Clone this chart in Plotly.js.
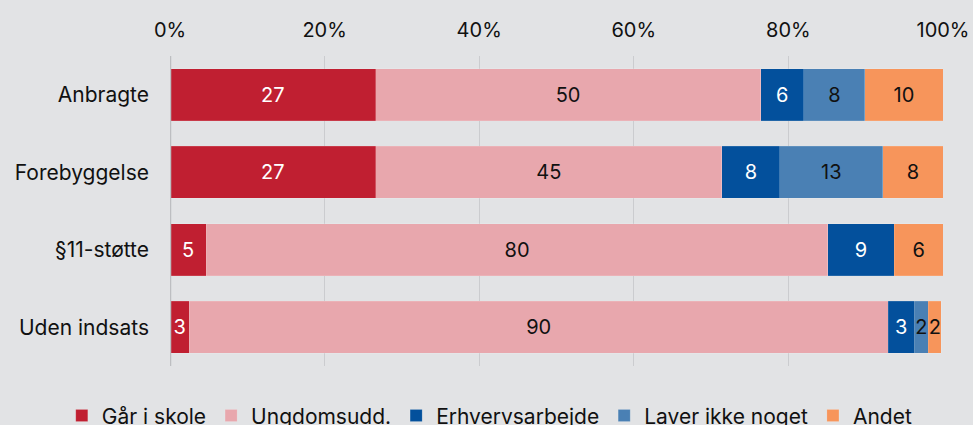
<!DOCTYPE html>
<html>
<head>
<meta charset="utf-8">
<script src="https://cdn.plot.ly/plotly-3.0.1.min.js"></script>
<style>html,body{margin:0;padding:0;background:#e2e3e5;overflow:hidden;}#chart{width:973px;height:425px;}</style>
</head>
<body>
<div id="chart"></div>
<script>
const categories = ["Anbragte", "Forebyggelse", "§11-støtte", "Uden indsats"];
const seriesNames = ["Går i skole", "Ungdomsudd.", "Erhvervsarbejde", "Laver ikke noget", "Andet"];
const gaarISkole     = [26.6, 26.6, 4.7, 2.5];
const ungdomsudd     = [49.8, 44.8, 80.4, 90.4];
const erhvervsarbejde= [5.6, 7.5, 8.6, 3.4];
const laverIkkeNoget = [7.9, 13.3, null, 1.8];
const andet          = [10.1, 7.8, 6.3, 1.7];
const tickValues = [0, 20, 40, 60, 80, 100];
const tickLabels = ["0%", "20%", "40%", "60%", "80%", "100%"];

const seriesValues = [gaarISkole, ungdomsudd, erhvervsarbejde, laverIkkeNoget, andet];
const colors = ["#c01f31", "#e8a7ad", "#03509c", "#4a80b4", "#f7955b"];
const textColors = ["#ffffff", "#111111", "#ffffff", "#111111", "#111111"];
const FONT = "Inter, 'Noto Sans', sans-serif";

const traces = seriesValues.map((vals, i) => ({
  type: "bar",
  orientation: "h",
  name: seriesNames[i],
  y: categories,
  x: vals,
  marker: {color: colors[i], line: {color: "rgba(255,255,255,0.25)", width: 0.5}},
  texttemplate: "%{x:.0f}",
  textposition: "inside",
  insidetextanchor: "middle",
  textangle: 0,
  constraintext: "none",
  insidetextfont: {family: FONT, size: 20, color: textColors[i]},
  hoverinfo: "skip"
}));

const layout = {
  width: 973, height: 425,
  paper_bgcolor: "#e2e3e5",
  plot_bgcolor: "#e2e3e5",
  barmode: "stack",
  bargap: 0.33,
  font: {family: FONT, size: 20, color: "#111111"},
  margin: {l: 170, r: 30, t: 56, b: 59, autoexpand: false},
  uniformtext: {mode: "show", minsize: 20},
  xaxis: {
    side: "top",
    range: [0, 100],
    tickvals: tickValues,
    ticktext: tickLabels,
    showgrid: true,
    gridcolor: "#cbcccf",
    gridwidth: 1,
    zeroline: false,
    showline: false,
    ticks: "",
    ticklabelstandoff: 14,
    tickfont: {family: FONT, size: 20, color: "#111111"},
    fixedrange: true
  },
  yaxis: {
    autorange: "reversed",
    showgrid: false,
    zeroline: false,
    showline: false,
    ticks: "",
    ticklabelstandoff: 20,
    tickfont: {family: FONT, size: 21, color: "#111111"},
    fixedrange: true
  },
  shapes: [{
    type: "line", xref: "x", yref: "paper", x0: 0, x1: 0, y0: 0, y1: 1,
    line: {color: "#bdbec1", width: 2.5}
  }],
  showlegend: true,
  legend: {
    orientation: "h",
    xref: "paper", yref: "paper",
    x: -0.14, xanchor: "left",
    y: -0.161, yanchor: "middle",
    font: {family: FONT, size: 21, color: "#111111"},
    bgcolor: "rgba(0,0,0,0)",
    itemwidth: 30,
    tracegroupgap: 0,
    traceorder: "normal"
  }
};

Plotly.newPlot("chart", traces, layout, {staticPlot: true, displayModeBar: false});
</script>
</body>
</html>
